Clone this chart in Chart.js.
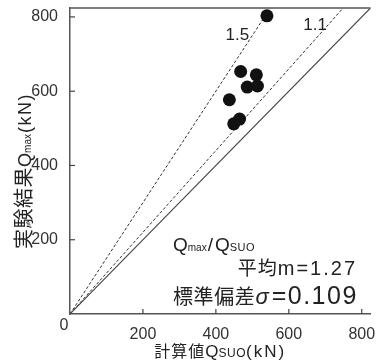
<!DOCTYPE html>
<html><head><meta charset="utf-8">
<script src="https://cdn.jsdelivr.net/npm/chart.js@4/dist/chart.umd.min.js"></script>
<style>html,body{margin:0;padding:0;background:#fff}canvas{display:block}</style>
</head><body>
<canvas id="c" width="377" height="362"></canvas>
<script>
// Data
const calcQsuo = [540, 468, 511, 514, 486, 437, 465, 449];   // 計算値 Qsuo (kN)
const expQmax  = [803, 653, 644, 614, 611, 577, 525, 512];   // 実験結果 Qmax (kN)
const ratioLines  = [1.0, 1.1, 1.5];
const ratioLabels = ['', '1.1', '1.5'];
const ratioLabelAt = [null, [672, 778], [459, 751]];          // label anchor in data units
const axisMin = 0, axisMax = 824;
const tickValues = [0, 200, 400, 600, 800];

const LAT = '"Liberation Sans", Arial, sans-serif';
const CJK = '"Noto Sans CJK JP", "Liberation Sans", sans-serif';
const TXT = '#222';

const lineSets = ratioLines.map((r, i) => ({
  type: 'line',
  data: [{x: 0, y: 0}, {x: Math.min(axisMax, axisMax / r), y: Math.min(axisMax, axisMax * r)}],
  borderColor: r === 1 ? '#444' : '#333',
  borderWidth: r === 1 ? 1.1 : 1,
  borderDash: r === 1 ? [] : [3, 2],
  pointRadius: 0,
  fill: false,
  order: 2
}));

function drawSegs(ctx, segs, x, y, align) {
  const widths = segs.map(s => {
    ctx.font = s.f; ctx.letterSpacing = (s.ls || 0) + 'px';
    return ctx.measureText(s.t).width + (s.gap || 0);
  });
  const total = widths.reduce((a, b) => a + b, 0);
  let cx = align === 'center' ? x - total / 2 : align === 'right' ? x - total : x;
  ctx.textAlign = 'left'; ctx.textBaseline = 'alphabetic'; ctx.fillStyle = TXT;
  segs.forEach((s, i) => {
    ctx.font = s.f; ctx.letterSpacing = (s.ls || 0) + 'px';
    ctx.fillText(s.t, cx, y); cx += widths[i];
  });
  ctx.letterSpacing = '0px';
}

const decor = {
  id: 'decor',
  afterDraw(chart) {
    const ctx = chart.ctx, a = chart.chartArea, xs = chart.scales.x, ys = chart.scales.y;
    ctx.save();
    // top frame line
    ctx.strokeStyle = '#555'; ctx.lineWidth = 1.5;
    ctx.beginPath(); ctx.moveTo(a.left, a.top); ctx.lineTo(a.right, a.top); ctx.stroke();
    // inward ticks
    ctx.lineWidth = 1.2; ctx.strokeStyle = '#444';
    tickValues.forEach(v => {
      if (v === 0) return;
      const px = xs.getPixelForValue(v), py = ys.getPixelForValue(v);
      ctx.beginPath(); ctx.moveTo(px, a.bottom); ctx.lineTo(px, a.bottom - 5); ctx.stroke();
      ctx.beginPath(); ctx.moveTo(a.left, py); ctx.lineTo(a.left + 5, py); ctx.stroke();
    });
    // origin tick label (shared by both axes, drawn slightly left of the corner)
    ctx.fillStyle = '#333'; ctx.font = '16px ' + LAT; ctx.textAlign = 'center'; ctx.textBaseline = 'top';
    ctx.fillText(String(tickValues[0]), a.left - 6, a.bottom + 4);
    // ratio labels
    ctx.fillStyle = TXT; ctx.font = '17px ' + LAT; ctx.textAlign = 'center'; ctx.textBaseline = 'middle';
    ratioLabels.forEach((t, i) => {
      if (!t) return;
      ctx.fillText(t, xs.getPixelForValue(ratioLabelAt[i][0]), ys.getPixelForValue(ratioLabelAt[i][1]));
    });
    // statistics annotation
    drawSegs(ctx, [
      {t: 'Q', f: '19px ' + LAT},
      {t: 'max', f: '10px ' + LAT, gap: 1},
      {t: '/', f: '19px ' + LAT, gap: 2},
      {t: 'Q', f: '19px ' + LAT},
      {t: 'SUO', f: '11px ' + LAT, ls: 0.5}
    ], 173, 251, 'left');
    drawSegs(ctx, [
      {t: '平均', f: '19px ' + CJK, ls: 1},
      {t: 'm=1.27', f: '20px ' + LAT, ls: 2}
    ], 357, 275, 'right');
    drawSegs(ctx, [
      {t: '標準偏差', f: '20px ' + CJK, ls: 0.6},
      {t: 'σ', f: 'italic 22px ' + LAT, gap: 3},
      {t: '=0.109', f: '25px ' + LAT, ls: 1.5}
    ], 173, 304, 'left');
    // x axis title
    drawSegs(ctx, [
      {t: '計算値', f: '16px ' + CJK, ls: 1},
      {t: 'Q', f: '17px ' + LAT},
      {t: 'SUO', f: '12px ' + LAT, ls: 0.5},
      {t: '(kN)', f: '17px ' + LAT, ls: 2}
    ], (a.left + a.right) / 2, 357, 'center');
    // y axis title
    ctx.translate(31, 171); ctx.rotate(-Math.PI / 2);
    drawSegs(ctx, [
      {t: '実験結果', f: '20px ' + CJK, ls: 0.5},
      {t: 'Q', f: '18px ' + LAT},
      {t: 'max', f: '10px ' + LAT, gap: 1},
      {t: '(kN)', f: '18px ' + LAT, ls: 1.5}
    ], 0, 0, 'center');
    ctx.restore();
  }
};

const tickFont = {size: 16, family: LAT};
new Chart(document.getElementById('c'), {
  type: 'scatter',
  data: {
    datasets: [
      ...lineSets,
      {
        type: 'scatter',
        data: calcQsuo.map((x, i) => ({x, y: expQmax[i]})),
        pointRadius: 6.5, pointHoverRadius: 6.5,
        backgroundColor: '#111', borderColor: '#111', borderWidth: 0,
        order: 1
      }
    ]
  },
  options: {
    responsive: false, animation: false, devicePixelRatio: 1,
    layout: {padding: {top: 8, right: 1, left: 0, bottom: 0}},
    plugins: {legend: {display: false}, tooltip: {enabled: false}},
    scales: {
      x: {
        type: 'linear', min: axisMin, max: axisMax,
        afterBuildTicks: s => { s.ticks = tickValues.map(v => ({value: v})); },
        afterFit: s => { s.height = 48; s.paddingLeft = 0; s.paddingRight = 0; },
        grid: {display: false},
        border: {display: true, color: '#555', width: 1.5},
        ticks: {font: tickFont, color: '#333', padding: 3, maxRotation: 0, autoSkip: false,
                callback: v => v === 0 ? '' : String(v)}
      },
      y: {
        type: 'linear', min: axisMin, max: axisMax,
        afterBuildTicks: s => { s.ticks = tickValues.map(v => ({value: v})); },
        afterFit: s => { s.width = 70; s.paddingTop = 0; s.paddingBottom = 0; },
        grid: {display: false},
        border: {display: true, color: '#555', width: 1.5},
        ticks: {font: tickFont, color: '#333', padding: 4, autoSkip: false,
                callback: v => v === 0 ? '' : String(v)}
      }
    }
  },
  plugins: [decor]
});
</script>
</body></html>
